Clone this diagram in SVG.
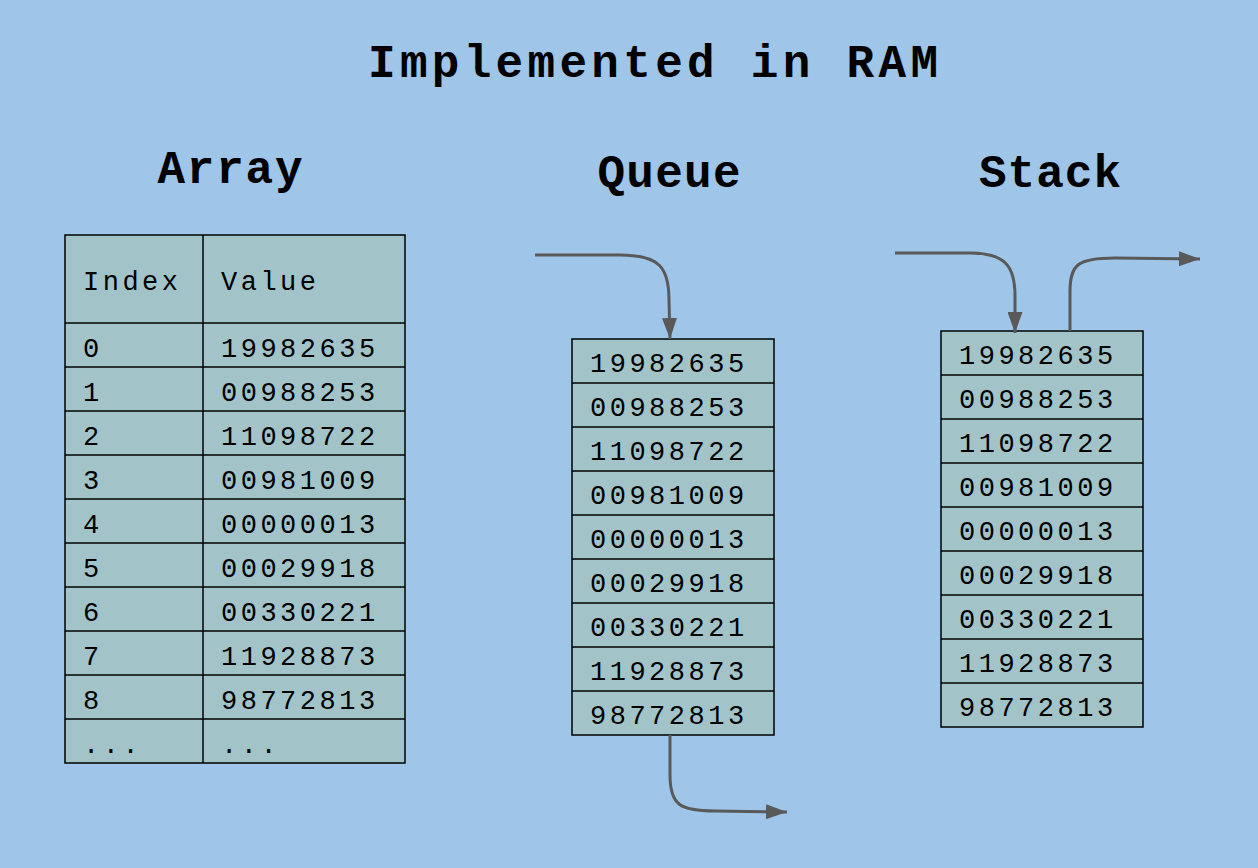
<svg xmlns="http://www.w3.org/2000/svg" width="1258" height="868" viewBox="0 0 1258 868">
<style>
.t{font-family:"Liberation Mono","Courier New",monospace;font-weight:bold;font-size:46px;fill:#000}
.c{font-family:"Liberation Mono","Courier New",monospace;font-size:27px;letter-spacing:3.5px;fill:#000}
.cell{fill:#a2c4c9;stroke:#000;stroke-width:1.5}
.ln{stroke:#000;stroke-width:1.5}
.ar{fill:none;stroke:#595959;stroke-width:3}
</style>
<defs>
<marker id="ah" markerWidth="7" markerHeight="5" refX="7" refY="2.5" orient="auto" markerUnits="strokeWidth">
<path d="M0,0 L7,2.5 L0,5 Z" fill="#595959"/>
</marker>
</defs>
<rect width="1258" height="868" fill="#9fc5e8"/>
<text class="t" x="653" y="77" text-anchor="middle" textLength="570" lengthAdjust="spacing">Implemented in RAM</text>
<text class="t" x="230" y="183" text-anchor="middle" textLength="145" lengthAdjust="spacing">Array</text>
<text class="t" x="669" y="187" text-anchor="middle" textLength="143" lengthAdjust="spacing">Queue</text>
<text class="t" x="1050" y="187" text-anchor="middle" textLength="142" lengthAdjust="spacing">Stack</text>

<g id="array">
<rect class="cell" x="65" y="235" width="340" height="528"/>
<line class="ln" x1="203" y1="235" x2="203" y2="763"/>
<line class="ln" x1="65" y1="323" x2="405" y2="323"/>
<line class="ln" x1="65" y1="367" x2="405" y2="367"/>
<line class="ln" x1="65" y1="411" x2="405" y2="411"/>
<line class="ln" x1="65" y1="455" x2="405" y2="455"/>
<line class="ln" x1="65" y1="499" x2="405" y2="499"/>
<line class="ln" x1="65" y1="543" x2="405" y2="543"/>
<line class="ln" x1="65" y1="587" x2="405" y2="587"/>
<line class="ln" x1="65" y1="631" x2="405" y2="631"/>
<line class="ln" x1="65" y1="675" x2="405" y2="675"/>
<line class="ln" x1="65" y1="719" x2="405" y2="719"/>
<text class="c" x="83" y="290">Index</text><text class="c" x="221" y="290">Value</text>
<text class="c" x="83" y="357">0</text><text class="c" x="221" y="357">19982635</text>
<text class="c" x="83" y="401">1</text><text class="c" x="221" y="401">00988253</text>
<text class="c" x="83" y="445">2</text><text class="c" x="221" y="445">11098722</text>
<text class="c" x="83" y="489">3</text><text class="c" x="221" y="489">00981009</text>
<text class="c" x="83" y="533">4</text><text class="c" x="221" y="533">00000013</text>
<text class="c" x="83" y="577">5</text><text class="c" x="221" y="577">00029918</text>
<text class="c" x="83" y="621">6</text><text class="c" x="221" y="621">00330221</text>
<text class="c" x="83" y="665">7</text><text class="c" x="221" y="665">11928873</text>
<text class="c" x="83" y="709">8</text><text class="c" x="221" y="709">98772813</text>
<text class="c" x="83" y="753">...</text><text class="c" x="221" y="753">...</text>
</g>

<g id="queue">
<rect class="cell" x="572" y="339" width="202" height="396"/>
<line class="ln" x1="572" y1="383" x2="774" y2="383"/>
<line class="ln" x1="572" y1="427" x2="774" y2="427"/>
<line class="ln" x1="572" y1="471" x2="774" y2="471"/>
<line class="ln" x1="572" y1="515" x2="774" y2="515"/>
<line class="ln" x1="572" y1="559" x2="774" y2="559"/>
<line class="ln" x1="572" y1="603" x2="774" y2="603"/>
<line class="ln" x1="572" y1="647" x2="774" y2="647"/>
<line class="ln" x1="572" y1="691" x2="774" y2="691"/>
<text class="c" x="590" y="372">19982635</text>
<text class="c" x="590" y="416">00988253</text>
<text class="c" x="590" y="460">11098722</text>
<text class="c" x="590" y="504">00981009</text>
<text class="c" x="590" y="548">00000013</text>
<text class="c" x="590" y="592">00029918</text>
<text class="c" x="590" y="636">00330221</text>
<text class="c" x="590" y="680">11928873</text>
<text class="c" x="590" y="724">98772813</text>
</g>

<g id="stack">
<rect class="cell" x="941" y="331" width="202" height="396"/>
<line class="ln" x1="941" y1="375" x2="1143" y2="375"/>
<line class="ln" x1="941" y1="419" x2="1143" y2="419"/>
<line class="ln" x1="941" y1="463" x2="1143" y2="463"/>
<line class="ln" x1="941" y1="507" x2="1143" y2="507"/>
<line class="ln" x1="941" y1="551" x2="1143" y2="551"/>
<line class="ln" x1="941" y1="595" x2="1143" y2="595"/>
<line class="ln" x1="941" y1="639" x2="1143" y2="639"/>
<line class="ln" x1="941" y1="683" x2="1143" y2="683"/>
<text class="c" x="959" y="364">19982635</text>
<text class="c" x="959" y="408">00988253</text>
<text class="c" x="959" y="452">11098722</text>
<text class="c" x="959" y="496">00981009</text>
<text class="c" x="959" y="540">00000013</text>
<text class="c" x="959" y="584">00029918</text>
<text class="c" x="959" y="628">00330221</text>
<text class="c" x="959" y="672">11928873</text>
<text class="c" x="959" y="716">98772813</text>
</g>

<g id="connectors">
<path class="ar" marker-end="url(#ah)" d="M535,255 L620,255 C660,255 669,268 669,300 L670,339"/>
<path class="ar" marker-end="url(#ah)" d="M670,735 L670,775 C670,805 680,811 715,811 L787,812"/>
<path class="ar" marker-end="url(#ah)" d="M895,253 L970,253 C1005,253 1015,266 1015,296 L1015,333"/>
<path class="ar" marker-end="url(#ah)" d="M1070,331 L1070,292 C1070,264 1078,258 1115,258 L1200,259"/>
</g>
</svg>
